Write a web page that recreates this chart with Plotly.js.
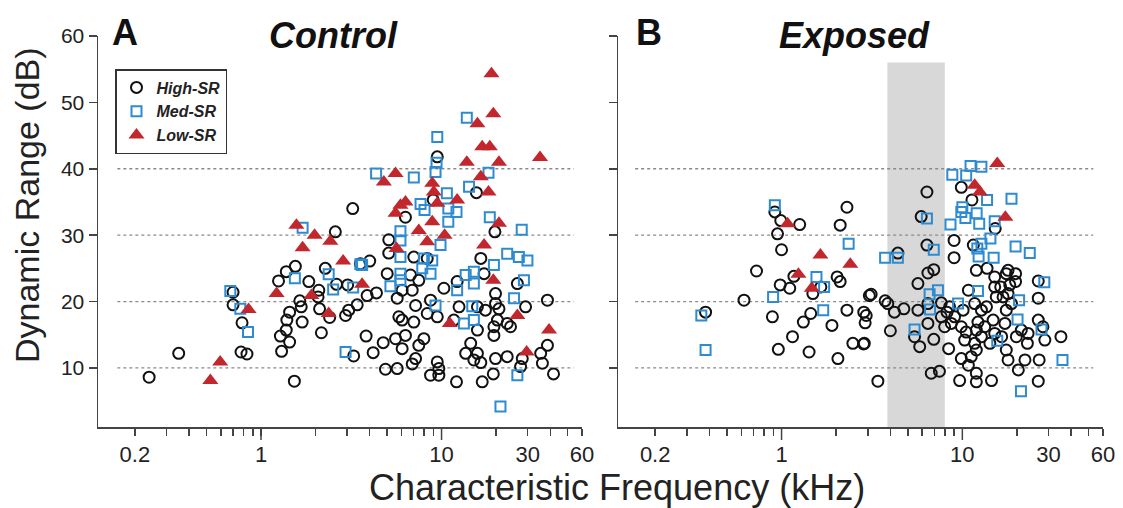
<!DOCTYPE html>
<html><head><meta charset="utf-8">
<script src="https://cdn.plot.ly/plotly-3.0.1.min.js"></script>
<style>html,body{margin:0;padding:0;background:#fff}#chart{width:1123px;height:508px}</style>
</head><body><div id="chart"></div>
<script>
// ---------- Panel A: Control ----------
const ctrlHighX=[0.24,0.35,0.70,0.70,0.785,0.775,0.836,1.25,1.38,1.55,1.44,1.39,1.38,1.28,1.44,1.30,1.64,1.67,1.69,1.53,1.84,2.09,2.07,2.11,2.16,2.27,2.58,2.62,2.40,2.94,3.06,3.41,3.02,3.22,3.26,3.82,4.18,4.0,3.87,4.36,4.75,4.89,5.0,5.10,5.10,9.47,6.31,8.99,15.6,19.75,3.55,7.02,8.33,6.73,7.48,10.3,12.2,16.5,17.2,5.68,6.05,6.88,7.18,5.80,6.05,7.02,8.33,9.47,8.69,12.5,11.7,15.8,17.5,19.9,19.9,20.8,20.4,19.5,23.1,19.5,26.3,29.2,38.6,5.56,6.31,6.05,7.98,7.48,5.68,6.88,7.18,8.69,9.47,9.66,9.66,12.1,13.6,14.5,15.8,15.1,16.5,16.8,19.35,19.9,23.1,27.4,28.0,35.4,36.2,38.6,41.7,15.8,24.1];
const ctrlHighY=[8.6,12.2,21.4,19.5,16.8,12.4,12.1,23.1,24.5,25.3,18.4,17.2,15.7,14.8,13.9,12.5,20.1,19.2,16.9,8.0,23.0,21.7,20.7,18.9,15.3,25.0,30.5,22.6,17.6,17.9,18.7,19.5,22.5,34.0,11.8,14.8,12.3,26.1,20.9,21.3,13.8,9.8,24.2,29.3,27.3,41.8,32.7,35.3,36.4,30.5,25.7,26.7,26.5,24.0,23.2,22.0,23.0,26.5,24.2,20.5,21.7,21.7,19.4,17.7,17.2,16.9,18.2,17.7,20.2,19.2,17.2,19.2,18.7,21.2,19.7,18.9,17.2,16.2,16.7,14.9,22.7,19.2,20.2,14.4,14.9,12.9,14.4,13.4,9.9,10.6,11.4,8.9,10.9,9.9,8.9,7.9,12.2,13.7,12.2,11.2,10.8,7.9,9.1,11.4,11.7,10.2,11.4,12.2,10.7,13.4,9.1,15.7,16.2];
const ctrlMedX=[0.676,0.768,0.847,1.70,1.54,2.37,2.51,3.24,3.55,3.63,2.94,5.21,13.8,9.47,9.38,9.26,4.34,7.02,18.2,14.2,10.7,7.65,8.05,10.9,12.1,10.9,18.5,27.8,5.92,5.92,9.87,5.92,7.98,8.88,8.69,7.82,5.92,5.92,12.2,13.6,15.1,15.1,19.5,23.1,26.8,29.9,28.6,25.2,14.8,9.26,13.3,15.1,26.3,21.2];
const ctrlMedY=[21.6,18.9,15.4,31.1,23.5,24.1,21.8,22.1,25.6,25.5,12.4,22.3,47.7,44.8,40.9,39.5,39.3,38.7,39.4,37.3,36.3,34.7,33.8,34.0,33.5,32.0,32.7,30.8,30.6,29.2,28.5,26.7,26.5,26.2,24.2,25.0,24.2,23.2,21.7,24.0,24.5,22.7,25.5,27.2,26.7,26.2,23.2,20.5,19.3,19.4,16.7,17.2,8.9,4.2];
const ctrlLowX=[0.524,0.594,0.853,1.22,1.57,1.70,1.98,2.42,2.85,3.63,1.90,2.37,4.79,18.9,19.35,15.8,16.8,18.5,13.8,20.8,35.1,16.5,18.2,5.56,8.88,9.06,9.47,12.2,6.31,5.92,5.56,8.88,7.48,10.4,20.8,5.63,8.33,17.2,19.35,11.1,26.3,39.4,29.6];
const ctrlLowY=[8.1,10.9,18.8,21.2,31.5,28.1,30.0,29.1,26.1,22.6,20.9,18.2,38.0,54.3,48.3,46.8,43.3,43.3,41.0,41.0,41.7,38.8,36.5,39.3,37.8,36.5,34.8,35.3,35.0,34.5,33.3,32.0,30.7,30.0,31.8,28.0,29.0,28.5,23.2,16.7,17.9,15.7,12.4];

// ---------- Panel B: Exposed ----------
const expHighX=[0.38,0.62,0.727,0.918,0.99,0.95,1.0,1.26,0.983,1.11,1.17,0.89,1.15,0.96,1.32,1.45,1.42,1.49,1.65,1.90,2.05,2.11,2.30,2.03,2.11,2.30,2.48,2.84,2.85,3.06,2.94,6.37,9.87,11.3,5.92,15.2,4.40,6.37,9.0,9.0,11.5,11.95,13.7,15.1,17.5,19.7,6.45,6.95,5.68,26.3,3.13,3.74,3.87,4.21,4.75,5.68,6.45,7.65,8.5,10.8,11.7,13.6,15.1,15.4,16.8,17.9,18.7,17.5,26.3,2.90,2.87,4.0,5.44,5.81,6.45,6.95,7.98,8.40,9.06,9.87,10.3,9.87,10.8,11.7,11.95,12.2,14.2,15.1,17.5,17.9,19.9,20.4,22.2,23.1,26.3,27.9,28.6,26.6,35.1,26.3,3.41,6.73,7.47,9.66,11.95,14.5,11.95,11.2,16.5,17.2,14.8,13.3,12.75,7.65,8.23,8.69,10.1,10.5,11.95,12.75,18.3,16.3,19.7,21.2,22.9,17.9];
const expHighY=[18.4,20.2,24.6,33.5,32.2,30.2,27.8,31.6,22.5,22.0,23.8,17.7,14.7,12.8,16.9,18.2,12.4,21.2,22.2,16.4,11.4,31.5,34.2,23.7,23.0,18.7,13.7,13.6,18.4,20.9,17.9,36.5,37.2,35.3,32.8,31.0,27.3,28.5,29.2,26.6,28.5,24.7,25.0,23.7,24.2,24.2,24.3,24.8,22.7,23.1,21.1,20.1,19.7,18.4,18.9,18.7,19.7,19.8,19.2,21.7,19.7,19.2,22.2,20.7,20.7,21.2,19.7,18.7,20.5,16.8,13.7,15.6,14.7,13.2,16.7,14.3,16.2,12.9,17.7,16.2,14.2,11.4,10.4,13.7,12.7,16.9,13.7,15.2,12.7,11.2,14.7,9.7,11.2,15.2,17.2,16.2,14.2,11.2,14.7,8.0,8.0,9.2,9.5,8.1,7.9,8.1,9.2,11.7,14.7,16.7,17.2,16.2,18.7,17.7,18.4,16.7,18.7,15.4,15.7,14.7,22.5,22.2,23.0,15.7,13.7,24.7];
const expMedX=[0.36,0.38,0.918,0.898,1.56,1.72,1.70,2.35,3.74,4.40,6.37,6.95,7.33,6.59,6.63,5.44,9.47,8.8,10.5,11.1,12.75,13.7,18.7,10.0,9.87,10.4,12.0,8.6,12.4,15.1,14.3,12.75,12.1,12.3,14.9,19.7,23.6,28.4,12.2,20.6,20.2,27.4,15.6,35.8,21.1];
const expMedY=[17.9,12.7,34.5,20.7,23.7,22.2,18.7,28.7,26.6,26.6,32.5,27.8,21.7,21.1,18.8,15.8,19.7,39.1,39.0,40.4,40.3,35.3,35.5,34.2,33.5,32.6,33.3,31.6,31.7,32.1,29.5,28.7,28.0,26.8,26.6,28.3,27.3,22.9,21.6,20.2,17.3,15.8,14.1,11.2,6.5];
const expLowX=[1.08,1.64,2.40,1.24,1.47,15.6,11.7,12.5,17.3];
const expLowY=[31.7,27.0,25.6,24.1,22.0,40.8,37.5,36.5,32.7];

// ---------- axes ----------
const xTickVals=[0.2,0.3,0.4,0.5,0.6,0.7,0.8,0.9,1,2,3,4,5,6,7,8,9,10,20,30,40,50,60];
const xLabelled={0.2:'0.2',1:'1',10:'10',30:'30',60:'60'};
const xTickText=xTickVals.map(v=>xLabelled[v]||'');
const decadeTicks=[1,10];
const yTickVals=[10,20,30,40,50,60];
const gridVals=[10,20,30,40];
const noiseBand=[3.85,8];

const FONT='"Liberation Sans", Arial, Helvetica, sans-serif';
const AX='#444';
const BLUE='#2e8bd0', RED='#c1272d';

function traces(xa,ya,hx,hy,mx,my,lx,ly,show){
  return [
    {x:hx,y:hy,xaxis:xa,yaxis:ya,type:'scatter',mode:'markers',name:'<b><i>High-SR</i></b>',legendgroup:'h',showlegend:show,
     marker:{symbol:'circle-open',size:11,color:'#111',line:{width:2,color:'#111'}}},
    {x:mx,y:my,xaxis:xa,yaxis:ya,type:'scatter',mode:'markers',name:'<b><i>Med-SR</i></b>',legendgroup:'m',showlegend:show,
     marker:{symbol:'square-open',size:10,color:BLUE,line:{width:2,color:BLUE}}},
    {x:lx,y:ly,xaxis:xa,yaxis:ya,type:'scatter',mode:'markers',name:'<b><i>Low-SR</i></b>',legendgroup:'l',showlegend:show,
     marker:{symbol:'triangle-up',size:14,color:RED,line:{width:0}}}
  ];
}
const data=[
  ...traces('x','y',ctrlHighX,ctrlHighY,ctrlMedX,ctrlMedY,ctrlLowX,ctrlLowY,true),
  ...traces('x2','y2',expHighX,expHighY,expMedX,expMedY,expLowX,expLowY,false)
];

const shapes=[];
shapes.push({type:'rect',xref:'x2',yref:'y2',x0:noiseBand[0],x1:noiseBand[1],y0:1.1,y1:56,fillcolor:'#d8d8d8',line:{width:0},layer:'below'});
gridVals.forEach(v=>{
  shapes.push({type:'line',xref:'x',yref:'y',x0:0.16,x1:54,y0:v,y1:v,line:{color:'#8a8a8a',width:1.3,dash:'dot'},layer:'below'});
  shapes.push({type:'line',xref:'x2',yref:'y2',x0:0.155,x1:53,y0:v,y1:v,line:{color:'#8a8a8a',width:1.3,dash:'dot'},layer:'below'});
});
['x','x2'].forEach(xr=>decadeTicks.forEach(v=>{
  shapes.push({type:'line',xref:xr,yref:'paper',x0:v,x1:v,y0:0,y1:-13/391,line:{color:AX,width:1.5}});
}));

const xCommon={type:'log',range:[-0.903,1.778],tickmode:'array',tickvals:xTickVals,ticktext:xTickText,
  ticks:'outside',ticklen:7,tickwidth:1.5,tickcolor:AX,showline:true,linecolor:AX,linewidth:1.5,
  showgrid:false,zeroline:false,tickfont:{family:FONT,size:22,color:'#222'}};
const yCommon={range:[1.1,60],tickmode:'array',tickvals:yTickVals,ticks:'outside',ticklen:8,tickwidth:1.5,tickcolor:AX,
  showline:true,linecolor:AX,linewidth:1.5,showgrid:false,zeroline:false,tickfont:{family:FONT,size:21,color:'#222'}};

const px=p=>(p-98)/1005, py=p=>1-(p-36)/391;
const layout={
  width:1123,height:508,margin:{l:98,r:20,t:36,b:81},
  paper_bgcolor:'#fff',plot_bgcolor:'#fff',
  font:{family:FONT,color:'#222'},
  xaxis:Object.assign({},xCommon,{domain:[0,0.4816],anchor:'y'}),
  xaxis2:Object.assign({},xCommon,{domain:[0.5177,1],anchor:'y2'}),
  yaxis:Object.assign({},yCommon,{domain:[0,1],anchor:'x'}),
  yaxis2:Object.assign({},yCommon,{domain:[0,1],anchor:'x2',showticklabels:false}),
  showlegend:true,
  legend:{x:px(115),y:py(69),xanchor:'left',yanchor:'top',bgcolor:'#fff',bordercolor:'#333',borderwidth:1.5,
    font:{family:FONT,size:16,color:'#222'},tracegroupgap:0,itemwidth:30},
  shapes:shapes,
  annotations:[
    {xref:'paper',yref:'paper',x:px(110),y:py(33),xanchor:'left',yanchor:'middle',showarrow:false,text:'<b>A</b>',font:{family:FONT,size:36,color:'#111'}},
    {xref:'paper',yref:'paper',x:px(333),y:py(35),xanchor:'center',yanchor:'middle',showarrow:false,text:'<b><i>Control</i></b>',font:{family:FONT,size:36,color:'#111'}},
    {xref:'paper',yref:'paper',x:px(634),y:py(33),xanchor:'left',yanchor:'middle',showarrow:false,text:'<b>B</b>',font:{family:FONT,size:36,color:'#111'}},
    {xref:'paper',yref:'paper',x:px(854),y:py(35),xanchor:'center',yanchor:'middle',showarrow:false,text:'<b><i>Exposed</i></b>',font:{family:FONT,size:36,color:'#111'}},
    {xref:'x2',yref:'y2',x:Math.sqrt(noiseBand[0]*noiseBand[1]),y:51.5,xanchor:'center',yanchor:'middle',showarrow:false,text:'<b><i>Noise<br>Band</i></b>',font:{family:FONT,size:14,color:'#333'}},
    {xref:'paper',yref:'paper',x:px(27),y:py(205),xanchor:'center',yanchor:'middle',textangle:-90,showarrow:false,text:'Dynamic Range (dB)',font:{family:FONT,size:34,color:'#222'}},
    {xref:'paper',yref:'paper',x:px(617),y:py(487),xanchor:'center',yanchor:'middle',showarrow:false,text:'Characteristic Frequency (kHz)',font:{family:FONT,size:36,color:'#222'}}
  ]
};
Plotly.newPlot('chart',data,layout,{staticPlot:true,displayModeBar:false});
</script></body></html>
